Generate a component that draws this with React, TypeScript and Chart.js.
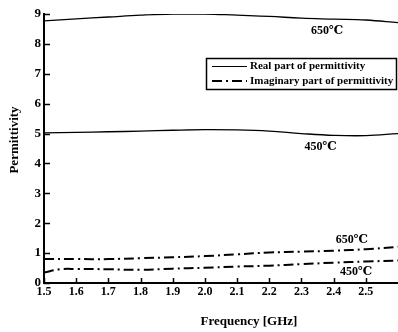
import React, { useEffect, useRef } from "react";
import { Chart, registerables } from "chart.js";

Chart.register(...registerables);

const freq = [1.5, 1.6, 1.7, 1.8, 1.9, 2.0, 2.1, 2.2, 2.3, 2.4, 2.5, 2.6];
const real650 = [8.77, 8.84, 8.9, 8.96, 9.0, 9.0, 8.96, 8.92, 8.86, 8.83, 8.8, 8.71];
const real450 = [5.02, 5.04, 5.06, 5.08, 5.11, 5.13, 5.12, 5.08, 5.0, 4.94, 4.93, 5.0];
const imag650 = [0.8, 0.8, 0.8, 0.83, 0.86, 0.9, 0.96, 1.02, 1.05, 1.08, 1.13, 1.21];
const freqImag450 = [1.5, 1.55, 1.6, 1.7, 1.8, 1.9, 2.0, 2.1, 2.2, 2.3, 2.4, 2.5, 2.6];
const imag450 = [0.35, 0.46, 0.47, 0.46, 0.44, 0.48, 0.51, 0.55, 0.58, 0.63, 0.68, 0.72, 0.75];

const xTickValues = [1.5, 1.6, 1.7, 1.8, 1.9, 2.0, 2.1, 2.2, 2.3, 2.4, 2.5];
const yTickValues = [0, 1, 2, 3, 4, 5, 6, 7, 8, 9];

const annoText = ["650\u2103", "450\u2103", "650\u2103", "450\u2103"];
const annoX = [2.38, 2.36, 2.457, 2.47];
const annoY = [8.43, 4.55, 1.44, 0.38];

const legendLabels = ["Real part of permittivity", "Imaginary part of permittivity"];
const xTitle = "Frequency [GHz]";
const yTitle = "Permittivity";

const SERIF = '"Liberation Serif", "DejaVu Serif", serif';
const DASHDOT = [10, 4, 2, 4];

const pts = (xs: number[], ys: number[]) => xs.map((x, i) => ({ x, y: ys[i] }));

const overlay = {
  id: "overlay",
  afterDraw(chart: any) {
    const { ctx, chartArea, scales } = chart;
    const x = scales.x;
    const y = scales.y;
    ctx.save();
    ctx.strokeStyle = "#000";
    ctx.fillStyle = "#000";
    ctx.lineWidth = 1.5;
    ctx.setLineDash([]);
    xTickValues.forEach((v) => {
      const px = Math.round(x.getPixelForValue(v)) + 0.5;
      ctx.beginPath();
      ctx.moveTo(px, chartArea.bottom);
      ctx.lineTo(px, chartArea.bottom - 5);
      ctx.stroke();
    });
    yTickValues.forEach((v) => {
      const py = Math.round(y.getPixelForValue(v)) + 0.5;
      ctx.beginPath();
      ctx.moveTo(chartArea.left, py);
      ctx.lineTo(chartArea.left + 6, py);
      ctx.stroke();
    });

    // annotations
    ctx.font = `bold 12px ${SERIF}`;
    ctx.textAlign = "center";
    ctx.textBaseline = "middle";
    annoText.forEach((t, i) => {
      ctx.fillText(t, x.getPixelForValue(annoX[i]), y.getPixelForValue(annoY[i]));
    });

    // legend
    const lx = 206, ly = 58, lw = 190, lh = 31;
    ctx.lineWidth = 1.5;
    ctx.strokeRect(lx + 0.5, ly + 0.5, lw, lh);
    ctx.lineWidth = 1;
    ctx.beginPath();
    ctx.moveTo(lx + 6, ly + 8.5);
    ctx.lineTo(lx + 41, ly + 8.5);
    ctx.stroke();
    ctx.lineWidth = 2;
    ctx.setLineDash(DASHDOT);
    ctx.beginPath();
    ctx.moveTo(lx + 6, ly + 23);
    ctx.lineTo(lx + 41, ly + 23);
    ctx.stroke();
    ctx.setLineDash([]);
    ctx.font = `bold 11px ${SERIF}`;
    ctx.textAlign = "left";
    ctx.fillText(legendLabels[0], lx + 44, ly + 8.5);
    ctx.fillText(legendLabels[1], lx + 44, ly + 23);

    // axis titles
    ctx.font = `bold 13px ${SERIF}`;
    ctx.textAlign = "center";
    ctx.fillText(xTitle, 249, 322);
    ctx.save();
    ctx.translate(15, 140);
    ctx.rotate(-Math.PI / 2);
    ctx.fillText(yTitle, 0, 0);
    ctx.restore();
    ctx.restore();
  },
};

export default function App() {
  const ref = useRef<HTMLCanvasElement | null>(null);
  useEffect(() => {
    if (!ref.current) return;
    const chart = new Chart(ref.current, {
      type: "line",
      data: {
        datasets: [
          { label: "Real 650", data: pts(freq, real650), borderColor: "#000", borderWidth: 1.3, pointRadius: 0, tension: 0.4 },
          { label: "Real 450", data: pts(freq, real450), borderColor: "#000", borderWidth: 1.3, pointRadius: 0, tension: 0.4 },
          { label: "Imag 650", data: pts(freq, imag650), borderColor: "#000", borderWidth: 2, borderDash: DASHDOT, pointRadius: 0, tension: 0.4 },
          { label: "Imag 450", data: pts(freqImag450, imag450), borderColor: "#000", borderWidth: 2, borderDash: DASHDOT, pointRadius: 0, tension: 0.4 },
        ],
      },
      options: {
        responsive: false,
        animation: false,
        layout: { padding: { top: 14, right: 0, left: 0, bottom: 0 } },
        plugins: { legend: { display: false }, tooltip: { enabled: false } },
        scales: {
          x: {
            type: "linear",
            min: 1.5,
            max: 2.6,
            afterBuildTicks: (s: any) => {
              s.ticks = xTickValues.map((v) => ({ value: v }));
            },
            afterFit: (s: any) => {
              s.height = 49;
            },
            grid: { display: false, drawTicks: false },
            border: { display: true, color: "#000", width: 2 },
            ticks: {
              color: "#000",
              padding: 2,
              maxRotation: 0,
              autoSkip: false,
              font: { family: SERIF, weight: "bold", size: 12 },
              callback: (v: any) => Number(v).toFixed(1),
            },
          },
          y: {
            type: "linear",
            min: 0,
            max: 9,
            afterBuildTicks: (s: any) => {
              s.ticks = yTickValues.map((v) => ({ value: v }));
            },
            afterFit: (s: any) => {
              s.width = 44;
            },
            grid: { display: false, drawTicks: false },
            border: { display: true, color: "#000", width: 2 },
            ticks: {
              color: "#000",
              padding: 3,
              font: { family: SERIF, weight: "bold", size: 13 },
            },
          },
        },
      },
      plugins: [overlay],
    });
    return () => chart.destroy();
  }, []);
  return (
    <div style={{ position: "fixed", left: 0, top: 0, width: 398, height: 332, background: "#fff" }}>
      <canvas ref={ref} width={398} height={332} style={{ display: "block" }} />
    </div>
  );
}
